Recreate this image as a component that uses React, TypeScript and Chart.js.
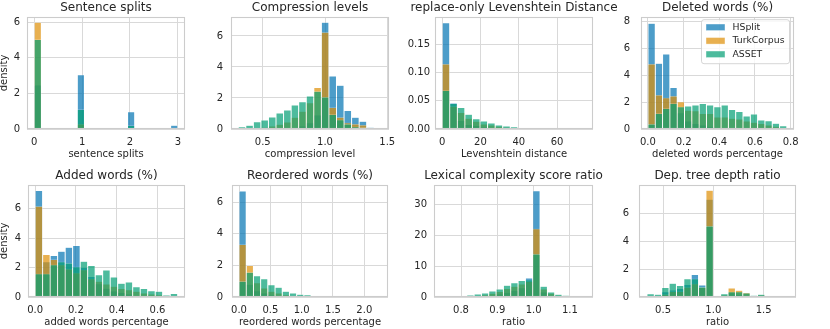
import React, { useEffect, useRef } from "react";
import { Chart, registerables } from "chart.js";

Chart.register(...registerables);

const FONT = "'DejaVu Sans', 'Liberation Sans', sans-serif";
const TEXT = "#262626";
const GRID = "#d9d9d9";
const EDGE = "#cccccc";
Chart.defaults.font.family = FONT;
Chart.defaults.color = TEXT;

type Arr = (number | null)[];
const n = null;

const SERIES = ["HSplit", "TurkCorpus", "ASSET"];
const COLORS = ["rgba(1,115,178,0.7)", "rgba(222,143,5,0.7)", "rgba(2,158,115,0.7)"];
const BAR_EDGE = "rgba(255,255,255,0.7)";

// ---- Sentence splits (bins of 0.15 starting at 0)
const SPLITS_BIN_START = 0;
const SPLITS_BIN_WIDTH = 0.15;
const SPLITS_HSPLIT: Arr = [2.47, n, n, n, n, n, 3.05, n, n, n, n, n, n, 0.97, n, n, n, n, n, 0.21];
const SPLITS_TURK: Arr = [6.0, n, n, n, n, n, 0.28, n, n, n, n, n, n, 0.05, n, n, n, n, n, n];
const SPLITS_ASSET: Arr = [5.04, n, n, n, n, n, 1.1, n, n, n, n, n, n, 0.19, n, n, n, n, n, n];

// ---- Compression levels
const COMP_BIN_START = 0.303;
const COMP_BIN_WIDTH = 0.0607;
const COMP_HSPLIT: Arr = [n, n, n, n, n, n, 0.05, 0.1, 0.2, 0.4, 0.9, 6.88, 3.42, 2.82, 1.2, 0.75, 0.5, 0.12, n];
const COMP_TURK: Arr = [n, n, 0.05, 0.12, 0.2, 0.3, 0.45, 0.75, 1.15, 1.7, 2.67, 6.24, 1.39, 0.75, 0.4, 0.32, 0.26, 0.1, 0.08];
const COMP_ASSET: Arr = [0.15, 0.24, 0.47, 0.58, 0.77, 1.03, 1.22, 1.54, 1.75, 2.12, 2.44, 2.07, 0.94, 0.6, 0.32, 0.15, 0.09, n, n];

// ---- replace-only Levenshtein distance
const LEV_BIN_START = 0;
const LEV_BIN_WIDTH = 3.95;
const LEV_HSPLIT: Arr = [0.188, 0.046, 0.015, 0.008, 0.006, 0.004, 0.002, 0.001, 0.0005, n, n, n, n, n, n, n, n, n, n];
const LEV_TURK: Arr = [0.115, 0.04, 0.029, 0.019, 0.0135, 0.009, 0.007, 0.005, 0.003, 0.002, 0.001, 0.0005, n, n, n, n, n, n, n];
const LEV_ASSET: Arr = [0.068, 0.045, 0.038, 0.026, 0.018, 0.014, 0.0106, 0.007, 0.0053, 0.004, 0.0024, 0.0012, 0.001, 0.0008, 0.0008, 0.0005, n, n, n];

// ---- Deleted words (%)
const DEL_BIN_START = 0;
const DEL_BIN_WIDTH = 0.041;
const DEL_HSPLIT: Arr = [7.85, 4.88, 5.57, 3.09, 1.2, 0.6, 0.4, 0.3, 0.2, 0.1, 0.05, n, n, n, n, n, n, n, n];
const DEL_TURK: Arr = [4.83, 2.52, 2.33, 2.45, 2.03, 1.4, 1.35, 1.15, 1.15, 0.9, 0.9, 0.8, 0.75, 0.6, 0.5, 0.4, 0.3, 0.2, 0.1];
const DEL_ASSET: Arr = [0.37, 1.16, 1.53, 1.9, 1.66, 1.7, 1.78, 1.9, 1.78, 1.66, 1.78, 1.45, 1.3, 0.97, 1.11, 0.67, 0.62, 0.42, 0.25];

// ---- Added words (%)
const ADD_BIN_START = 0;
const ADD_BIN_WIDTH = 0.0368;
const ADD_HSPLIT: Arr = [7.25, 2.4, 2.82, 3.11, 3.39, 3.5, 2.0, 1.4, 0.9, 0.6, 0.4, 0.3, 0.2, 0.1, 0.1, 0.05, n, n, n];
const ADD_TURK: Arr = [6.18, 2.89, 2.55, 2.2, 1.91, 1.65, 1.86, 1.25, 1.07, 0.89, 0.73, 0.57, 0.5, 0.39, 0.27, 0.2, 0.15, 0.08, 0.05];
const ADD_ASSET: Arr = [1.59, 1.59, 2.2, 2.39, 2.32, 2.05, 2.43, 2.14, 1.52, 1.84, 1.36, 0.93, 1.02, 0.7, 0.57, 0.43, 0.39, 0.14, 0.23];

// ---- Reordered words (%)
const REO_BIN_START = 0;
const REO_BIN_WIDTH = 0.115;
const REO_HSPLIT: Arr = [6.7, 0.8, 0.4, 0.25, 0.15, 0.1, 0.05, n, n, n, n, n, n, n, n, n, n, n, n, n];
const REO_TURK: Arr = [3.32, 1.99, 0.9, 0.57, 0.36, 0.25, 0.15, 0.1, 0.05, 0.03, n, n, n, n, n, n, n, n, n, n];
const REO_ASSET: Arr = [1.0, 1.56, 1.35, 1.16, 0.78, 0.61, 0.36, 0.25, 0.17, 0.15, 0.1, 0.06, 0.04, 0.02, 0.02, 0.01, n, n, n, n];

// ---- Lexical complexity score ratio
const LEX_BIN_START = 0.735;
const LEX_BIN_WIDTH = 0.0202;
const LEX_HSPLIT: Arr = [n, n, n, 0.05, 0.1, 0.2, 0.3, 0.6, 1.0, 1.5, 2.2, 3.0, 6.2, 34.5, 1.6, 0.6, 0.3, 0.1, 0.05, n];
const LEX_TURK: Arr = [n, n, 0.05, 0.1, 0.2, 0.4, 0.7, 1.2, 1.8, 2.8, 3.5, 4.2, 5.0, 22.2, 2.6, 1.2, 0.6, 0.3, 0.15, 0.05];
const LEX_ASSET: Arr = [0.2, 0.2, 0.2, 0.4, 0.65, 0.95, 1.3, 1.96, 2.6, 3.8, 4.6, 5.4, 5.6, 14.0, 3.5, 1.6, 0.9, 0.55, 0.3, 0.15];

// ---- Dep. tree depth ratio
const DEP_BIN_START = 0.34;
const DEP_BIN_WIDTH = 0.0733;
const DEP_HSPLIT: Arr = [n, n, 0.38, 0.5, 0.6, 0.9, 1.6, 0.86, 6.98, n, 0.1, 0.3, 0.2, 0.1, n, n, n, n, n];
const DEP_TURK: Arr = [n, 0.05, 0.2, 0.4, 0.4, 0.7, 0.95, 0.7, 7.62, n, 0.15, 0.64, 0.48, 0.33, 0.1, 0.15, 0.05, 0.05, 0.03];
const DEP_ASSET: Arr = [0.24, 0.19, 0.67, 0.98, 0.83, 1.31, 1.31, 0.71, 5.07, n, 0.24, 0.38, 0.38, 0.29, 0.12, 0.19, 0.05, 0.05, n];

// ---- tick values
const SPLITS_X_TICKS = [0, 1, 2, 3];
const COMP_X_TICKS = [0.5, 1.0, 1.5];
const LEV_X_TICKS = [0, 20, 40, 60];
const DEL_X_TICKS = [0.0, 0.2, 0.4, 0.6, 0.8];
const ADD_X_TICKS = [0.0, 0.2, 0.4, 0.6];
const REO_X_TICKS = [0.0, 0.5, 1.0, 1.5, 2.0];
const LEX_X_TICKS = [0.8, 0.9, 1.0, 1.1];
const DEP_X_TICKS = [0.5, 1.0, 1.5];
const Y_TICKS_0_6 = [0, 2, 4, 6];
const Y_TICKS_0_8 = [0, 2, 4, 6, 8];
const LEV_Y_TICKS = [0, 0.05, 0.1, 0.15];
const LEX_Y_TICKS = [0, 10, 20, 30];

interface PanelSpec {
  title: string;
  xLabel: string;
  yLabel?: string;
  binStart: number;
  binWidth: number;
  series: Arr[];
  xMin: number;
  xMax: number;
  yMax: number;
  xTicks: number[];
  yTicks: number[];
  xDec: number;
  yDec: number;
  box: [number, number, number, number];
  yPad: number;
  legend?: boolean;
}

const PANELS: PanelSpec[] = [
  { title: "Sentence splits", xLabel: "sentence splits", yLabel: "density", binStart: SPLITS_BIN_START, binWidth: SPLITS_BIN_WIDTH, series: [SPLITS_HSPLIT, SPLITS_TURK, SPLITS_ASSET], xMin: -0.15, xMax: 3.15, yMax: 6.3, xTicks: SPLITS_X_TICKS, yTicks: Y_TICKS_0_6, xDec: 0, yDec: 0, box: [27, 17, 185, 129], yPad: 7 },
  { title: "Compression levels", xLabel: "compression level", binStart: COMP_BIN_START, binWidth: COMP_BIN_WIDTH, series: [COMP_HSPLIT, COMP_TURK, COMP_ASSET], xMin: 0.245, xMax: 1.514, yMax: 7.22, xTicks: COMP_X_TICKS, yTicks: Y_TICKS_0_6, xDec: 1, yDec: 0, box: [231, 17, 389, 129], yPad: 8 },
  { title: "replace-only Levenshtein Distance", xLabel: "Levenshtein distance", binStart: LEV_BIN_START, binWidth: LEV_BIN_WIDTH, series: [LEV_HSPLIT, LEV_TURK, LEV_ASSET], xMin: -3.75, xMax: 78.75, yMax: 0.198, xTicks: LEV_X_TICKS, yTicks: LEV_Y_TICKS, xDec: 0, yDec: 2, box: [435, 17, 593, 129], yPad: 5 },
  { title: "Deleted words (%)", xLabel: "deleted words percentage", binStart: DEL_BIN_START, binWidth: DEL_BIN_WIDTH, series: [DEL_HSPLIT, DEL_TURK, DEL_ASSET], xMin: -0.039, xMax: 0.819, yMax: 8.32, xTicks: DEL_X_TICKS, yTicks: Y_TICKS_0_8, xDec: 1, yDec: 0, box: [641, 17, 794, 129], yPad: 11, legend: true },
  { title: "Added words (%)", xLabel: "added words percentage", yLabel: "density", binStart: ADD_BIN_START, binWidth: ADD_BIN_WIDTH, series: [ADD_HSPLIT, ADD_TURK, ADD_ASSET], xMin: -0.035, xMax: 0.735, yMax: 7.62, xTicks: ADD_X_TICKS, yTicks: Y_TICKS_0_6, xDec: 1, yDec: 0, box: [28, 185, 185, 297], yPad: 7 },
  { title: "Reordered words (%)", xLabel: "reordered words percentage", binStart: REO_BIN_START, binWidth: REO_BIN_WIDTH, series: [REO_HSPLIT, REO_TURK, REO_ASSET], xMin: -0.112, xMax: 2.378, yMax: 7.08, xTicks: REO_X_TICKS, yTicks: Y_TICKS_0_6, xDec: 1, yDec: 0, box: [232, 185, 388, 297], yPad: 9 },
  { title: "Lexical complexity score ratio", xLabel: "ratio", binStart: LEX_BIN_START, binWidth: LEX_BIN_WIDTH, series: [LEX_HSPLIT, LEX_TURK, LEX_ASSET], xMin: 0.7256, xMax: 1.1636, yMax: 36.4, xTicks: LEX_X_TICKS, yTicks: LEX_Y_TICKS, xDec: 1, yDec: 0, box: [434, 185, 593, 297], yPad: 7 },
  { title: "Dep. tree depth ratio", xLabel: "ratio", binStart: DEP_BIN_START, binWidth: DEP_BIN_WIDTH, series: [DEP_HSPLIT, DEP_TURK, DEP_ASSET], xMin: 0.261, xMax: 1.822, yMax: 8.0, xTicks: DEP_X_TICKS, yTicks: Y_TICKS_0_6, xDec: 1, yDec: 0, box: [639, 185, 796, 297], yPad: 10 },
];

const LPAD = 40;
const RPAD = 24;
const TPAD = 17;
const BPAD = 32;

function binCenters(start: number, width: number, count: number): number[] {
  const out: number[] = [];
  for (let i = 0; i < count; i++) out.push(Math.round((start + width * (i + 0.5)) * 1e6) / 1e6);
  return out;
}

function Panel({ spec }: { spec: PanelSpec }) {
  const ref = useRef<HTMLCanvasElement | null>(null);
  const [l, t, r, b] = spec.box;
  const W = LPAD + (r - l) + RPAD;
  const H = TPAD + (b - t) + BPAD;

  useEffect(() => {
    const canvas = ref.current;
    if (!canvas) return;
    const labels = binCenters(spec.binStart, spec.binWidth, spec.series[2].length);

    const panelPlugin = {
      id: "panelDecor",
      afterDatasetsDraw(chart: any) {
        const { ctx, chartArea: a } = chart;
        ctx.save();
        ctx.strokeStyle = EDGE;
        ctx.lineWidth = 1.1;
        ctx.strokeRect(a.left + 0.5, a.top + 0.5, a.width - 1, a.height - 1);
        ctx.restore();
      },
      afterDraw(chart: any) {
        const { ctx, chartArea: a } = chart;
        ctx.save();
        ctx.fillStyle = TEXT;
        ctx.font = `12px ${FONT}`;
        ctx.textAlign = "center";
        ctx.textBaseline = "middle";
        ctx.fillText(spec.title, (a.left + a.right) / 2, a.top - 9);
        if (spec.legend) {
          const w = 88;
          const h = 44;
          const x0 = a.right - 4.5 - w;
          const y0 = a.top + 2.7;
          ctx.beginPath();
          if ((ctx as any).roundRect) (ctx as any).roundRect(x0, y0, w, h, 2.5);
          else ctx.rect(x0, y0, w, h);
          ctx.fillStyle = "rgba(255,255,255,0.8)";
          ctx.fill();
          ctx.strokeStyle = "rgba(204,204,204,0.8)";
          ctx.lineWidth = 1;
          ctx.stroke();
          ctx.font = `9.3px ${FONT}`;
          ctx.textAlign = "left";
          SERIES.forEach((name, i) => {
            const cy = y0 + 7.6 + i * 13.5;
            ctx.fillStyle = COLORS[i];
            ctx.fillRect(x0 + 4.5, cy - 3.3, 19, 6.6);
            ctx.strokeStyle = BAR_EDGE;
            ctx.lineWidth = 0.6;
            ctx.strokeRect(x0 + 4.5, cy - 3.3, 19, 6.6);
            ctx.fillStyle = TEXT;
            ctx.fillText(name, x0 + 31, cy);
          });
        }
        ctx.restore();
      },
    };

    const yTitlePad = 38.5 - l;

    const chart = new Chart(canvas, {
      type: "bar",
      data: {
        labels,
        datasets: SERIES.map((name, i) => ({
          label: name,
          data: spec.series[i],
          backgroundColor: COLORS[i],
          borderColor: BAR_EDGE,
          borderWidth: 0.5,
          borderSkipped: "start",
          inflateAmount: 0,
          grouped: false,
          barPercentage: 1,
          categoryPercentage: 1,
          order: 3 - i,
        })),
      },
      options: {
        animation: false,
        responsive: false,
        devicePixelRatio: 1,
        layout: { padding: { top: TPAD, right: RPAD, left: 0, bottom: 0 } },
        plugins: {
          legend: { display: false },
          title: { display: false },
          tooltip: { enabled: false },
        },
        scales: {
          x: {
            type: "linear",
            min: spec.xMin,
            max: spec.xMax,
            offset: false,
            grid: { offset: false, color: GRID, lineWidth: 1, drawTicks: false },
            border: { display: false },
            ticks: {
              padding: 7,
              autoSkip: false,
              maxRotation: 0,
              minRotation: 0,
              color: TEXT,
              font: { size: 10 },
              callback: (v: any) => Number(v).toFixed(spec.xDec),
            },
            title: {
              display: true,
              text: spec.xLabel,
              color: TEXT,
              font: { size: 10 },
              padding: { top: 0, bottom: 0.5 },
            },
            afterBuildTicks: (s: any) => {
              s.ticks = spec.xTicks.map((v) => ({ value: v }));
            },
            afterFit: (s: any) => {
              s.height = BPAD;
              s.paddingLeft = 0;
              s.paddingRight = 0;
            },
          },
          y: {
            type: "linear",
            min: 0,
            max: spec.yMax,
            grid: { color: GRID, lineWidth: 1, drawTicks: false },
            border: { display: false },
            ticks: {
              padding: spec.yPad,
              color: TEXT,
              font: { size: 10 },
              callback: (v: any) => Number(v).toFixed(spec.yDec),
            },
            title: spec.yLabel
              ? {
                  display: true,
                  text: spec.yLabel,
                  color: TEXT,
                  font: { size: 10 },
                  padding: { top: yTitlePad, bottom: 0 },
                }
              : { display: false },
            afterBuildTicks: (s: any) => {
              s.ticks = spec.yTicks.map((v) => ({ value: v }));
            },
            afterFit: (s: any) => {
              s.width = LPAD;
              s.paddingTop = 0;
              s.paddingBottom = 0;
            },
          },
        },
      } as any,
      plugins: [panelPlugin],
    });
    return () => chart.destroy();
  }, [spec]);

  return (
    <canvas
      ref={ref}
      width={W}
      height={H}
      style={{ position: "absolute", left: l - LPAD, top: t - TPAD, width: W, height: H }}
    />
  );
}

export default function App() {
  return (
    <div
      style={{
        position: "fixed",
        left: 0,
        top: 0,
        width: 830,
        height: 329,
        overflow: "hidden",
        background: "#ffffff",
      }}
    >
      {PANELS.map((p, i) => (
        <Panel key={i} spec={p} />
      ))}
    </div>
  );
}
